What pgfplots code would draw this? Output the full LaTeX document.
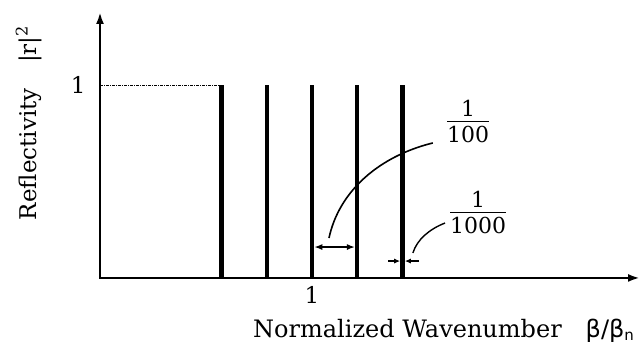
\documentclass[border=0pt]{standalone}
\usepackage{fontspec}
\setmainfont{DejaVu Serif}
\newfontfamily\dvs{DejaVu Sans}
\usepackage{pgfplots}
\pgfplotsset{compat=1.18}
\usetikzlibrary{arrows.meta}
\begin{document}
\begin{tikzpicture}[x=1pt,y=1pt]
\useasboundingbox (0,0) rectangle (643,344);
\begin{axis}[
  at={(100pt,67pt)}, anchor=south west,
  scale only axis, width=540pt, height=265pt,
  xmin=0.5315, xmax=1.7249, ymin=0, ymax=1.38,
  axis x line=bottom, axis y line=left,
  axis line style={draw=none},
  xtick={1}, ytick={1},
  major tick length=0pt,
  ticklabel style={font=\fontsize{23}{26}\selectfont},
  /pgf/number format/assume math mode=true,
  xticklabel style={yshift=-6pt},
  yticklabel style={xshift=-11pt},
  clip=false,
]
\addplot[black, line width=4.3pt, ycomb, no marks, line cap=butt] coordinates {
 (0.8,1) (0.9,1) (1.0,1) (1.1,1) (1.2,1)};
\addplot[black, line width=0.6pt, dash pattern=on 3pt off 1pt on 1pt off 1pt] coordinates {(0.5315,1) (0.796,1)};
% axes
\draw[line width=2.8pt, -{Latex[length=12pt,width=8pt]}] (axis cs:0.5315,-0.005) -- (axis cs:1.7249,-0.005);
\draw[line width=2.8pt, -{Latex[length=12pt,width=8pt]}] (axis cs:0.5315,-0.01) -- (axis cs:0.5315,1.38);
% double arrow 1/100
\draw[{Latex[length=8pt,width=6pt]}-{Latex[length=8pt,width=6pt]}, line width=1.6pt] (axis cs:1.005,0.156) -- (axis cs:1.095,0.156);
% small arrows 1/1000
\draw[-{Latex[length=6pt,width=5pt]}, line width=1.4pt] (axis cs:1.168,0.083) -- (axis cs:1.195,0.083);
\draw[-{Latex[length=6pt,width=5pt]}, line width=1.4pt] (axis cs:1.237,0.083) -- (axis cs:1.205,0.083);
% leader curves
\draw[line width=1.6pt] (axis cs:1.0376,0.203) .. controls (axis cs:1.06,0.45) and (axis cs:1.15,0.63) .. (axis cs:1.267,0.698);
\draw[line width=1.4pt] (axis cs:1.223,0.125) .. controls (axis cs:1.232,0.195) and (axis cs:1.26,0.25) .. (axis cs:1.294,0.281);
\node[font=\fontsize{22}{25}\selectfont, align=center, inner sep=0pt] at (axis cs:1.345,0.792) {\begin{tabular}{@{}c@{}}1\\[-3pt]\hline\rule{0pt}{21pt}100\end{tabular}};
\node[font=\fontsize{22}{25}\selectfont, align=center, inner sep=0pt] at (axis cs:1.367,0.318) {\begin{tabular}{@{}c@{}}1\\[-3pt]\hline\rule{0pt}{21pt}1000\end{tabular}};
\end{axis}
\node[rotate=90, font=\fontsize{23}{26}\selectfont] at (29,221) {Reflectivity\hspace{1.1em}|r|\textsuperscript{2}};
\node[anchor=base west, font=\fontsize{24}{27}\selectfont, inner sep=0pt] at (253,6) {Normalized Wavenumber\hspace{1.0em}{\dvs β/β\raisebox{-2.5pt}{\fontsize{15}{15}\selectfont n}}};
\end{tikzpicture}
\end{document}
